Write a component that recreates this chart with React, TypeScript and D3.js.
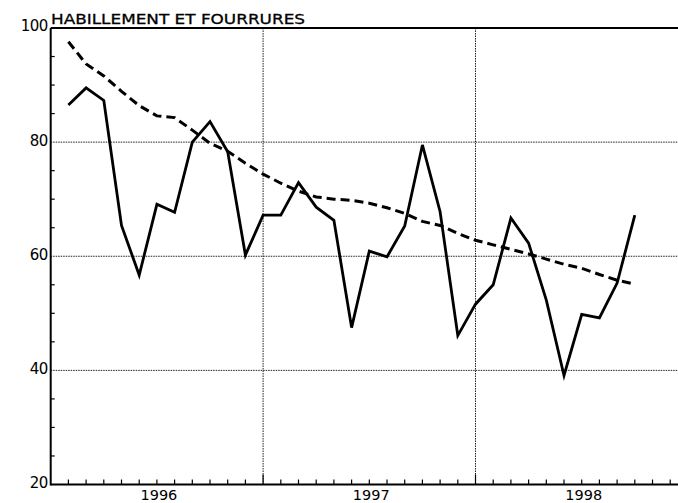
import * as d3 from "d3";

// monthly index (1 = first month plotted after Jan 1996 start)
const months = d3.range(1, 34);
const actual = [
  86.5, 89.5, 87.3, 65.4, 56.7, 69.1, 67.7, 80.0, 83.6, 78.3, 60.2, 67.2,
  67.2, 72.9, 68.6, 66.3, 47.5, 60.9, 59.9, 65.3, 79.5, 67.8, 46.1, 51.6,
  55.0, 66.7, 62.3, 52.3, 39.1, 49.8, 49.2, 55.3, 67.2,
];
const trend = [
  97.6, 93.7, 91.6, 88.9, 86.4, 84.6, 84.3, 82.1, 79.8, 78.4, 76.3, 74.4,
  72.8, 71.4, 70.4, 70.0, 69.8, 69.3, 68.5, 67.5, 66.1, 65.4, 64.0, 62.8,
  62.0, 61.2, 60.4, 59.5, 58.6, 57.9, 56.8, 55.8, 55.1,
];
const yearLabels = ["1996", "1997", "1998"];
const yTicks = [100, 80, 60, 40, 20];
const title = "HABILLEMENT ET FOURRURES";

const W = 678;
const H = 503;

export default function App() {
  const x = d3.scaleLinear().domain([0, 35.44]).range([50.7, 678]);
  const y = d3.scaleLinear().domain([20, 100]).range([484.5, 28]);

  const line = d3
    .line<number>()
    .x((_, i) => x(months[i]))
    .y((d) => y(d));

  const minorY = d3.range(25, 100, 5).filter((v) => v % 20 !== 0);
  const monthTicks = d3.range(1, 36);
  const font = "'DejaVu Sans', Verdana, sans-serif";

  return (
    <svg
      width={W}
      height={H}
      style={{ position: "absolute", left: 0, top: 0, background: "#fff" }}
      fontFamily={font}
    >
      {/* dotted grid */}
      {[80, 60, 40].map((v) => (
        <line key={v} x1={x(0)} x2={W} y1={y(v)} y2={y(v)}
          stroke="#222" strokeWidth={1} strokeDasharray="1.5,1" />
      ))}
      {[12, 24].map((m) => (
        <line key={m} x1={x(m)} x2={x(m)} y1={y(100)} y2={y(20)}
          stroke="#222" strokeWidth={1} strokeDasharray="1.5,1" />
      ))}

      {/* frame */}
      <line x1={x(0)} x2={W} y1={y(100)} y2={y(100)} stroke="#000" strokeWidth={2} />
      <line x1={x(0)} x2={x(0)} y1={y(100)} y2={y(20) + 1} stroke="#000" strokeWidth={2} />
      <line x1={x(0)} x2={W} y1={y(20)} y2={y(20)} stroke="#000" strokeWidth={2} />

      {/* y minor ticks */}
      {minorY.map((v) => (
        <line key={v} x1={x(0)} x2={x(0) + 4} y1={y(v)} y2={y(v)} stroke="#000" strokeWidth={1.2} />
      ))}
      {/* x month ticks */}
      {monthTicks.map((m) => (
        <line key={m} x1={x(m)} x2={x(m)} y1={y(20)}
          y2={y(20) - (m % 12 === 0 ? 10 : 5)} stroke="#000" strokeWidth={1.2} />
      ))}

      {/* y labels */}
      {yTicks.map((v) => (
        <text key={v} x={x(0) - 3} y={y(v) - 2} dy="0.36em" textAnchor="end"
          fontSize={15} fill="#000" letterSpacing={-0.6}>{v}</text>
      ))}

      {/* year labels */}
      {yearLabels.map((t, i) => (
        <text key={t} x={x(i * 12 + 6) + 2} y={500} textAnchor="middle"
          fontSize={14.5} fill="#000">{t}</text>
      ))}

      {/* title */}
      <text x={51} y={23.5} fontSize={14.5} fill="#000" stroke="#000" strokeWidth={0.3}
        textLength={254} lengthAdjust="spacingAndGlyphs">{title}</text>

      {/* series */}
      <path d={line(trend) ?? ""} fill="none" stroke="#000" strokeWidth={3}
        strokeDasharray="9,5" />
      <path d={line(actual) ?? ""} fill="none" stroke="#000" strokeWidth={2.8}
        strokeLinejoin="miter" />
    </svg>
  );
}
